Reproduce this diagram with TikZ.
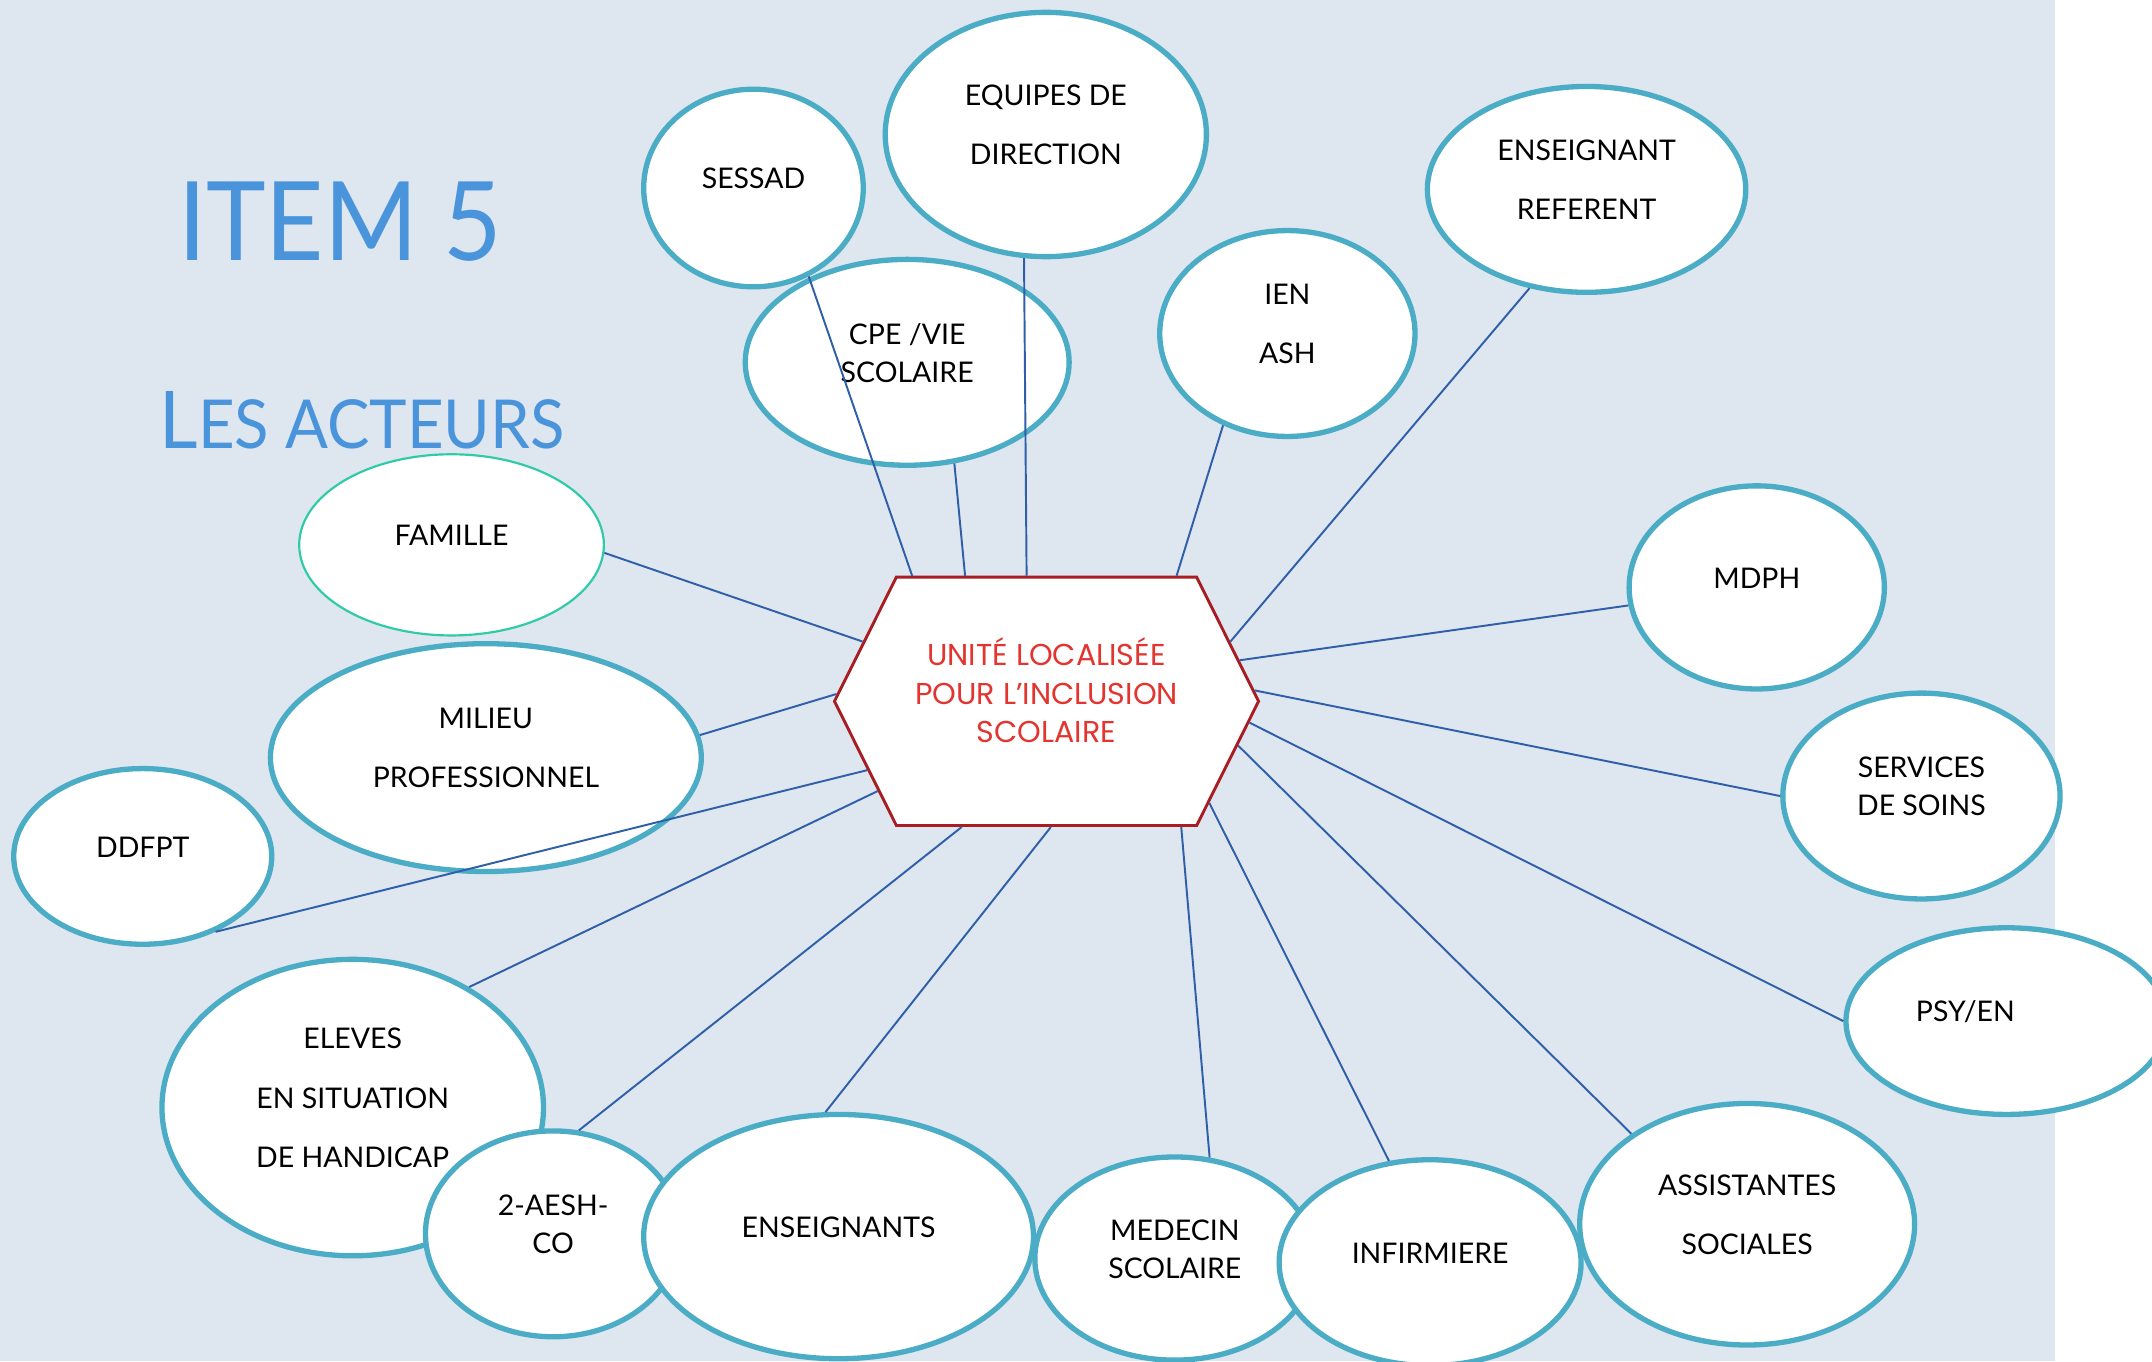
\documentclass[tikz,border=0pt]{standalone}
\usepackage{fontspec}
\setmainfont{Lato}
\newfontfamily\hubfont{Poppins}
\usetikzlibrary{shapes.geometric,shapes.symbols}
\definecolor{pagebg}{HTML}{DEE6EF}
\definecolor{aqua}{HTML}{4BACC6}
\definecolor{mint}{HTML}{2ECBA6}
\definecolor{linkblue}{HTML}{2E5FA8}
\definecolor{hubred}{HTML}{A81C22}
\definecolor{hubtext}{HTML}{E3342F}
\definecolor{titleblue}{HTML}{4A94DC}
\tikzset{
  actor/.style={ellipse, draw=aqua, line width=2.2pt, fill=white, inner sep=0pt, align=center,
    text depth=0.28cm, font=\fontsize{11.8}{15.9}\selectfont},
  spaced/.style={font=\fontsize{11.8}{24.7}\selectfont},
  link/.style={draw=linkblue, line width=0.8pt},
  hubbox/.style={signal, signal to=east and west, signal pointer angle=127, draw=hubred,
    line width=1.2pt, fill=white, text=hubtext, inner sep=0pt, align=center, text depth=0.32cm,
    font=\hubfont\fontsize{12.5}{15.9}\selectfont}
}

\begin{document}
\begin{tikzpicture}
    \useasboundingbox (0,0) rectangle (31.36,-19.84);
    \fill[pagebg] (0,0) rectangle (29.94,-19.84);

    \node[anchor=base west, xscale=0.92, text=titleblue, font=\fontsize{45.5}{46}\selectfont] (item) at (2.48,-3.80) {ITEM 5};
    \node[anchor=base west, xscale=0.94, text=titleblue, font=\fontsize{33}{33}\selectfont] (acteurs) at (2.21,-6.54) {L{\fontsize{28}{28}\selectfont ES ACTEURS}};

    \node[actor, minimum width=3.20cm, minimum height=2.88cm] (sessad) at (10.98,-2.74) {SESSAD};
    \node[actor, spaced, minimum width=4.68cm, minimum height=3.56cm] (equipes) at (15.24,-1.96) {EQUIPES DE\\DIRECTION};
    \node[actor, minimum width=4.72cm, minimum height=3.00cm] (cpe) at (13.22,-5.28) {CPE /VIE\\SCOLAIRE};
    \node[actor, spaced, minimum width=3.72cm, minimum height=3.00cm] (ien) at (18.76,-4.86) {IEN\\ASH};
    \node[actor, spaced, minimum width=4.64cm, minimum height=3.00cm] (referent) at (23.12,-2.76) {ENSEIGNANT\\REFERENT};
    \node[actor, minimum width=3.72cm, minimum height=2.96cm] (mdph) at (25.60,-8.56) {MDPH};
    \node[actor, minimum width=4.04cm, minimum height=3.00cm] (soins) at (28.00,-11.60) {SERVICES\\DE SOINS};
    \node[actor, minimum width=4.68cm, minimum height=2.72cm] (psy) at (29.24,-14.88) {\hspace*{-1.2cm}PSY/EN};
    \node[actor, spaced, minimum width=4.88cm, minimum height=3.52cm] (assistantes) at (25.46,-17.84) {ASSISTANTES\\SOCIALES};
    \node[actor, minimum width=4.08cm, minimum height=2.96cm] (medecin) at (17.12,-18.34) {MEDECIN\\SCOLAIRE};
    \node[actor, minimum width=4.40cm, minimum height=3.00cm] (infirmiere) at (20.84,-18.40) {INFIRMIERE};
    \node[actor, spaced, minimum width=5.56cm, minimum height=4.32cm] (eleves) at (5.14,-16.14) {ELEVES\\EN SITUATION\\DE HANDICAP};
    \node[actor, minimum width=3.72cm, minimum height=3.00cm] (aesh) at (8.06,-17.98) {2-AESH-\\CO};
    \node[actor, minimum width=5.68cm, minimum height=3.56cm] (enseignants) at (12.22,-18.02) {ENSEIGNANTS};
    \node[actor, spaced, minimum width=6.28cm, minimum height=3.32cm] (milieu) at (7.08,-11.04) {MILIEU\\PROFESSIONNEL};
    \node[actor, minimum width=3.76cm, minimum height=2.56cm] (ddfpt) at (2.08,-12.48) {DDFPT};
    \node[actor, draw=mint, line width=0.9pt, minimum width=4.44cm, minimum height=2.64cm] (famille) at (6.58,-7.94) {FAMILLE};

    \node[hubbox, minimum width=6.18cm, minimum height=3.62cm] (ulis) at (15.25,-10.22) {UNITÉ LOCALISÉE\\POUR L’INCLUSION\\SCOLAIRE};

    \draw[link] (sessad.-58) -- (ulis.137.6);
    \draw[link] (cpe.-65.8) -- (ulis.123);
    \draw[link] (equipes.-100.2) -- (ulis.99.2);
    \draw[link] (ien.-125.3) -- (ulis.44.8);
    \draw[link] (referent.-120.3) -- (ulis.18.6);
    \draw[link] (mdph.-172) -- (ulis.12.5);
    \draw[link] (soins.180) -- (ulis.3.8);
    \draw[link] (psy.180) -- (ulis.-6.6);
    \draw[link] (assistantes.142.2) -- (ulis.-13.3);
    \draw[link] (infirmiere.112.3) -- (ulis.-32.2);
    \draw[link] (medecin.71.6) -- (ulis.-43);
    \draw[link] (enseignants.96.4) -- (ulis.-88.5);
    \draw[link] (aesh.76.9) -- (ulis.-124.7);
    \draw[link] (eleves.46) -- (ulis.-152.8);
    \draw[link] (ddfpt.-46.1) -- (ulis.-159.7);
    \draw[link] (milieu.6.4) -- (ulis.178.9);
    \draw[link] (famille.-3.6) -- (ulis.162.7);
\end{tikzpicture}
\end{document}
